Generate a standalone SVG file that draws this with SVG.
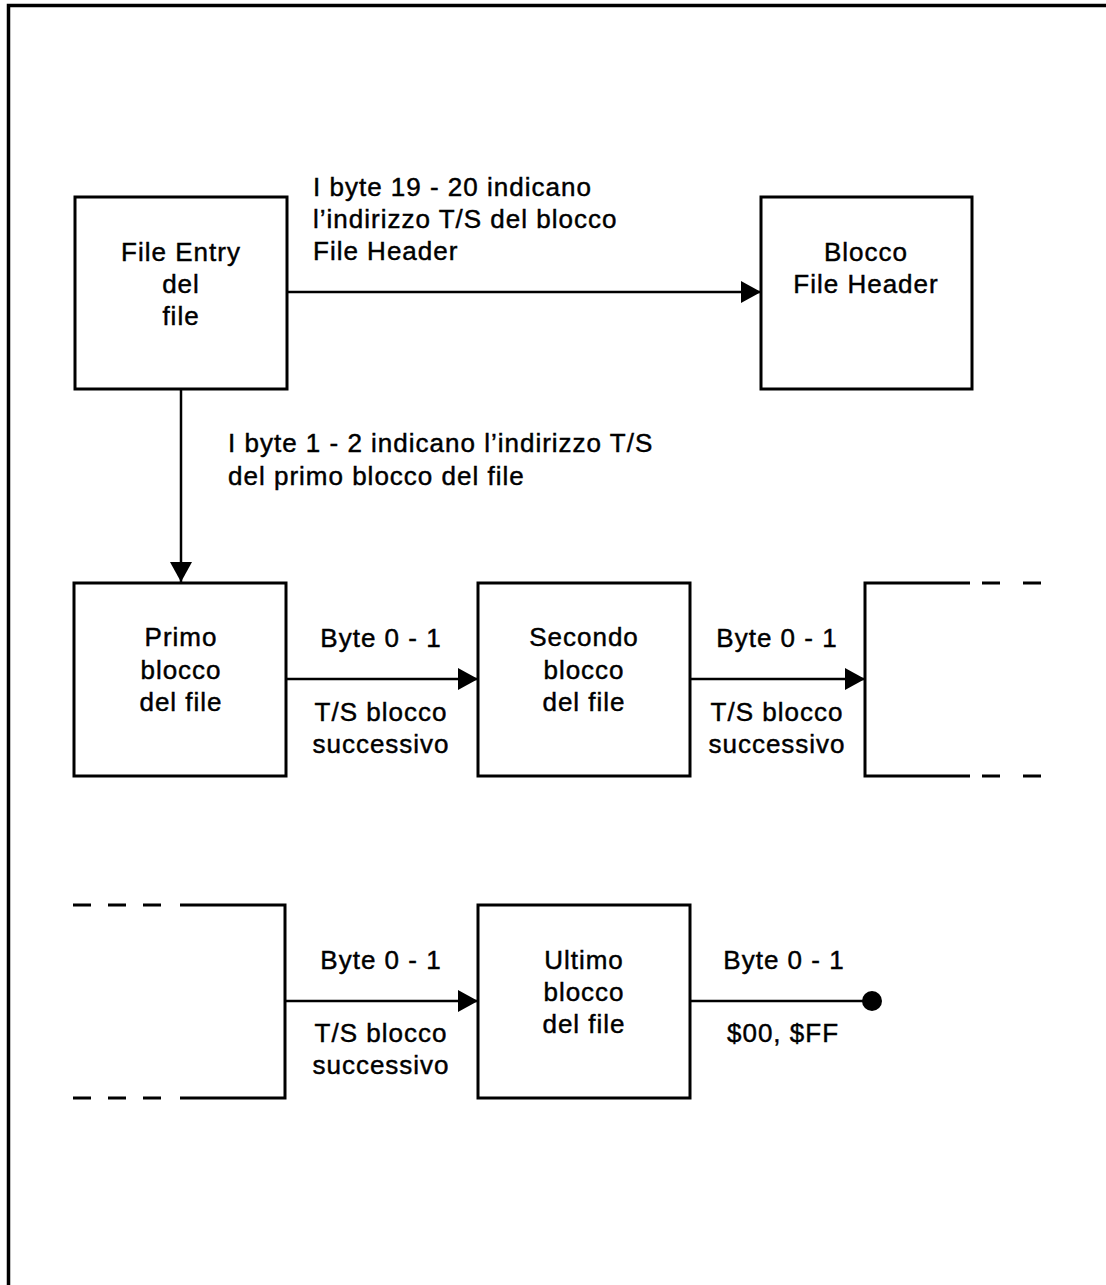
<svg xmlns="http://www.w3.org/2000/svg" width="1106" height="1285" viewBox="0 0 1106 1285">
<defs>
<style>
.box{fill:#fff;stroke:#000;stroke-width:3}
.edge{fill:none;stroke:#000;stroke-width:2.5}
.dash{fill:none;stroke:#000;stroke-width:3;stroke-dasharray:18 17}
.dashr{fill:none;stroke:#000;stroke-width:3;stroke-dasharray:18 23}
text{font-family:"Liberation Sans",Arial,sans-serif;font-size:26px;fill:#000;stroke:#000;stroke-width:0.45;letter-spacing:1px}
.c{text-anchor:middle}
</style>
<marker id="arr" viewBox="0 0 20 22" refX="20" refY="11" markerWidth="20" markerHeight="22" markerUnits="userSpaceOnUse" orient="auto">
<path d="M0,0 L20,11 L0,22 Z" fill="#000"/>
</marker>
</defs>
<rect width="1106" height="1285" fill="#fff"/>
<g id="frame">
<path d="M8.5,1285 V5.5 H1106" fill="none" stroke="#000" stroke-width="3.5"/>
</g>
<g id="connectors">
<line class="edge" x1="287" y1="292" x2="761" y2="292" marker-end="url(#arr)"/>
<line class="edge" x1="181" y1="389" x2="181" y2="582" marker-end="url(#arr)"/>
<line class="edge" x1="286" y1="679" x2="478" y2="679" marker-end="url(#arr)"/>
<line class="edge" x1="690" y1="679" x2="865" y2="679" marker-end="url(#arr)"/>
<line class="edge" x1="285" y1="1001" x2="478" y2="1001" marker-end="url(#arr)"/>
<line class="edge" x1="690" y1="1001" x2="866" y2="1001"/>
<circle cx="872" cy="1001" r="10" fill="#000"/>
<text x="313" y="196">I byte 19 - 20 indicano</text>
<text x="313" y="228">l’indirizzo T/S del blocco</text>
<text x="313" y="260">File Header</text>
<text x="228" y="452">I byte 1 - 2 indicano l’indirizzo T/S</text>
<text x="228" y="485">del primo blocco del file</text>
<text class="c" x="381" y="647">Byte 0 - 1</text>
<text class="c" x="381" y="721">T/S blocco</text>
<text class="c" x="381" y="753">successivo</text>
<text class="c" x="777" y="647">Byte 0 - 1</text>
<text class="c" x="777" y="721">T/S blocco</text>
<text class="c" x="777" y="753">successivo</text>
<text class="c" x="381" y="969">Byte 0 - 1</text>
<text class="c" x="381" y="1042">T/S blocco</text>
<text class="c" x="381" y="1074">successivo</text>
<text class="c" x="784" y="969">Byte 0 - 1</text>
<text class="c" x="783" y="1042">$00, $FF</text>
</g>
<g id="file-entry">
<rect class="box" x="75" y="197" width="212" height="192"/>
<text class="c" x="181" y="261">File Entry</text>
<text class="c" x="181" y="293">del</text>
<text class="c" x="181" y="325">file</text>
</g>
<g id="file-header">
<rect class="box" x="761" y="197" width="211" height="192"/>
<text class="c" x="866" y="261">Blocco</text>
<text class="c" x="866" y="293">File Header</text>
</g>
<g id="primo">
<rect class="box" x="74" y="583" width="212" height="193"/>
<text class="c" x="181" y="646">Primo</text>
<text class="c" x="181" y="679">blocco</text>
<text class="c" x="181" y="711">del file</text>
</g>
<g id="secondo">
<rect class="box" x="478" y="583" width="212" height="193"/>
<text class="c" x="584" y="646">Secondo</text>
<text class="c" x="584" y="679">blocco</text>
<text class="c" x="584" y="711">del file</text>
</g>
<g id="next-block">
<path class="box" d="M970,583 H865 V776 H970" fill="none"/>
<line class="dashr" x1="982" y1="583" x2="1042" y2="583"/>
<line class="dashr" x1="982" y1="776" x2="1042" y2="776"/>
</g>
<g id="prev-block">
<path class="box" d="M180,905 H285 V1098 H180" fill="none"/>
<line class="dash" x1="73" y1="905" x2="162" y2="905"/>
<line class="dash" x1="73" y1="1098" x2="162" y2="1098"/>
</g>
<g id="ultimo">
<rect class="box" x="478" y="905" width="212" height="193"/>
<text class="c" x="584" y="969">Ultimo</text>
<text class="c" x="584" y="1001">blocco</text>
<text class="c" x="584" y="1033">del file</text>
</g>
</svg>
